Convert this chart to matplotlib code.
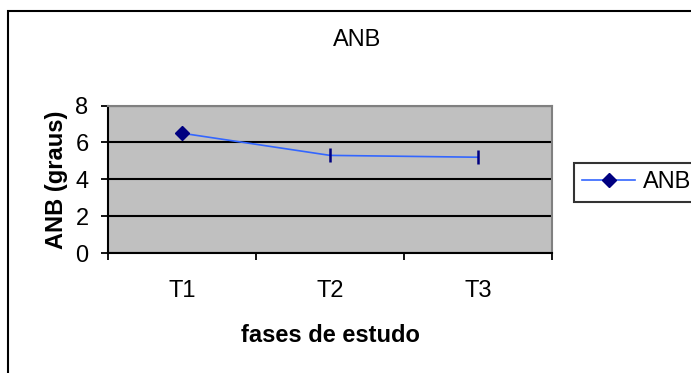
import matplotlib.pyplot as plt
from matplotlib.lines import Line2D
from matplotlib.patches import Rectangle

plt.rcParams['font.family'] = ['Liberation Sans', 'DejaVu Sans']

fases = ["T1", "T2", "T3"]
anb = [6.5, 5.3, 5.2]
y_ticks = [0, 2, 4, 6, 8]

W, H = 691, 373
FS = 17
fig = plt.figure(figsize=(W / 100, H / 100), dpi=100)

# outer chart border (runs off the right and bottom edge)
fig.patches.append(Rectangle((8 / W, -0.1), 1.2, 1 - 11 / H + 0.1, transform=fig.transFigure,
                             fill=False, edgecolor="black", linewidth=1.5, clip_on=False))

left, right, top, bottom = 108, 552, 105.5, 253.3
ax = fig.add_axes([left / W, 1 - bottom / H, (right - left) / W, (bottom - top) / H])
ax.set_facecolor("#C0C0C0")

x = list(range(1, len(fases) + 1))
ax.plot(x, anb, color="#3366FF", linewidth=1.2, zorder=3)
ax.plot(x[:1], anb[:1], linestyle="none", marker="D", markersize=7,
        color="#000080", zorder=4)
ax.plot(x[1:], anb[1:], linestyle="none", marker="|", markersize=10,
        markeredgewidth=1.8, color="#000080", zorder=4)

ax.set_xlim(0.5, len(fases) + 0.5)
ax.set_ylim(0, 8)
ax.set_yticks(y_ticks)
ax.yaxis.grid(True, color="black", linewidth=1.5)
ax.set_axisbelow(True)

# category boundaries carry the tick marks, labels sit in the middle
ax.set_xticks([i + 0.5 for i in range(len(fases) + 1)])
ax.set_xticklabels([])
ax.set_xticks(x, minor=True)
ax.set_xticklabels(fases, minor=True)
ax.tick_params(axis="x", which="major", length=5, width=1.3, direction="out")
ax.tick_params(axis="x", which="minor", length=0, pad=19.3, labelsize=FS)
ax.tick_params(axis="y", length=5, width=1.3, direction="out", pad=9, labelsize=FS)

for side in ("top", "right"):
    ax.spines[side].set_color("#808080")
    ax.spines[side].set_linewidth(1.5)
for side in ("left", "bottom"):
    ax.spines[side].set_color("black")
    ax.spines[side].set_linewidth(1.5)

ax.set_xlabel("fases de estudo", fontsize=FS, fontweight="bold", labelpad=16)
ax.set_ylabel("ANB (graus)", fontsize=FS, fontweight="bold", labelpad=5)
fig.text(357.5 / W, 1 - 45.7 / H, "ANB", fontsize=FS, ha="center", va="baseline")

handle = Line2D([], [], color="#3366FF", linewidth=1.2, marker="D", markersize=7,
                markerfacecolor="#000080", markeredgecolor="#000080")
leg = fig.legend([handle], ["ANB"], loc="upper left",
                 bbox_to_anchor=(574 / W, 1 - 163 / H), fontsize=FS,
                 frameon=True, fancybox=False, handlelength=2.25,
                 borderpad=0.35, handletextpad=0.3, borderaxespad=0)
leg.get_frame().set_edgecolor("black")
leg.get_frame().set_linewidth(1.5)

fig.savefig("out.png", dpi=100)
